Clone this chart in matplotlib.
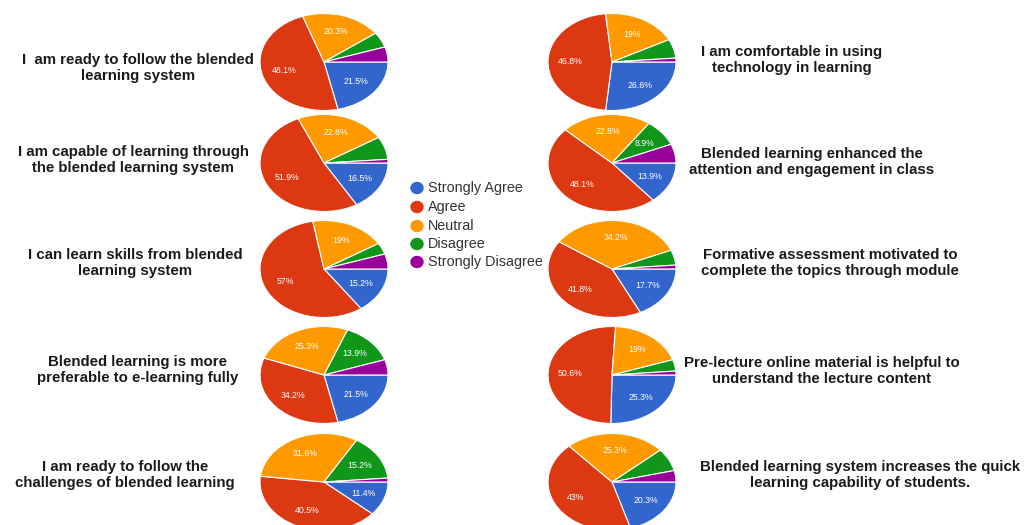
import matplotlib
matplotlib.use("Agg")
import numpy as np
import matplotlib.pyplot as plt
from matplotlib.patches import Ellipse

plt.rcParams['font.family'] = ['Liberation Sans', 'DejaVu Sans']

categories = ['Strongly Agree', 'Agree', 'Neutral', 'Disagree', 'Strongly Disagree']
colors = ['#3366cc', '#dc3912', '#ff9900', '#109618', '#990099']

# statements, left column then right column, top to bottom
left_questions = [
    'I  am ready to follow the blended\nlearning system',
    'I am capable of learning through\nthe blended learning system',
    'I can learn skills from blended\nlearning system',
    'Blended learning is more\npreferable to e-learning fully',
    'I am ready to follow the\nchallenges of blended learning',
]
right_questions = [
    'I am comfortable in using\ntechnology in learning',
    'Blended learning enhanced the\nattention and engagement in class',
    'Formative assessment motivated to\ncomplete the topics through module',
    'Pre-lecture online material is helpful to\nunderstand the lecture content',
    'Blended learning system increases the quick\nlearning capability of students.',
]

# percentages: SA, A, N, D, SD
left_values = [
    [21.5, 48.1, 20.3, 5.1, 5.0],
    [16.5, 51.9, 22.8, 7.6, 1.2],
    [15.2, 57.0, 19.0, 3.8, 5.0],
    [21.5, 34.2, 25.3, 13.9, 5.1],
    [11.4, 40.5, 31.6, 15.2, 1.3],
]
right_values = [
    [26.6, 46.8, 19.0, 6.3, 1.3],
    [13.9, 48.1, 22.8, 8.9, 6.3],
    [17.7, 41.8, 34.2, 5.0, 1.3],
    [25.3, 50.6, 19.0, 3.8, 1.3],
    [20.3, 43.0, 25.3, 7.6, 3.8],
]

W, H = 1030, 525
fig = plt.figure(figsize=(W / 100, H / 100), dpi=100)
fig.patch.set_facecolor('white')

row_y = [62, 163, 269, 375, 482]
pie_w, pie_h = 128, 97


def fmt(p):
    # google forms hides labels on small slices
    if p < 8:
        return ''
    s = '%.1f' % p
    if s.endswith('.0'):
        s = s[:-2]
    return s + '%'


def draw_pie(cx, cy, vals):
    ax = fig.add_axes([(cx - pie_w / 2) / W, 1 - (cy + pie_h / 2) / H, pie_w / W, pie_h / H])
    wedges, texts = ax.pie(vals, colors=colors, startangle=0, counterclock=False,
                           wedgeprops=dict(edgecolor='white', linewidth=0.8))
    ax.set_aspect('auto')
    ax.set_xlim(-1, 1)
    ax.set_ylim(-1, 1)
    tot = sum(vals)
    ang = 0.0
    for v in vals:
        mid = ang - v / tot * 180
        ang -= v / tot * 360
        lab = fmt(v)
        if lab:
            ax.text(0.65 * np.cos(np.radians(mid)), 0.65 * np.sin(np.radians(mid)), lab,
                    color='white', fontsize=6.3, ha='center', va='center')
    for w in wedges:
        w.set_clip_on(False)
    ax.set_frame_on(False)


left_text_x = [138, 133, 135, 138, 125]
left_text_y = [68, 160, 263, 370, 475]
right_text_x = [792, 812, 830, 822, 860]
right_text_y = [60, 162, 263, 371, 475]

for i in range(5):
    draw_pie(324, row_y[i], left_values[i])
    draw_pie(612, row_y[i], right_values[i])
    fig.text(left_text_x[i] / W, 1 - left_text_y[i] / H, left_questions[i],
             ha='center', va='center', fontsize=10.8, fontweight='bold', color='#1a1a1a',
             linespacing=1.2)
    fig.text(right_text_x[i] / W, 1 - right_text_y[i] / H, right_questions[i],
             ha='center', va='center', fontsize=10.8, fontweight='bold', color='#1a1a1a',
             linespacing=1.2)

# legend
leg_y = [188, 207, 226, 244, 262]
for i, c in enumerate(categories):
    fig.text(428 / W, 1 - leg_y[i] / H, c, ha='left', va='center', fontsize=10.4, color='#333333')
    fig.patches.append(Ellipse((417 / W, 1 - leg_y[i] / H), 12 / W, 11 / H,
                               transform=fig.transFigure, color=colors[i]))

fig.savefig('out.png', dpi=100)
